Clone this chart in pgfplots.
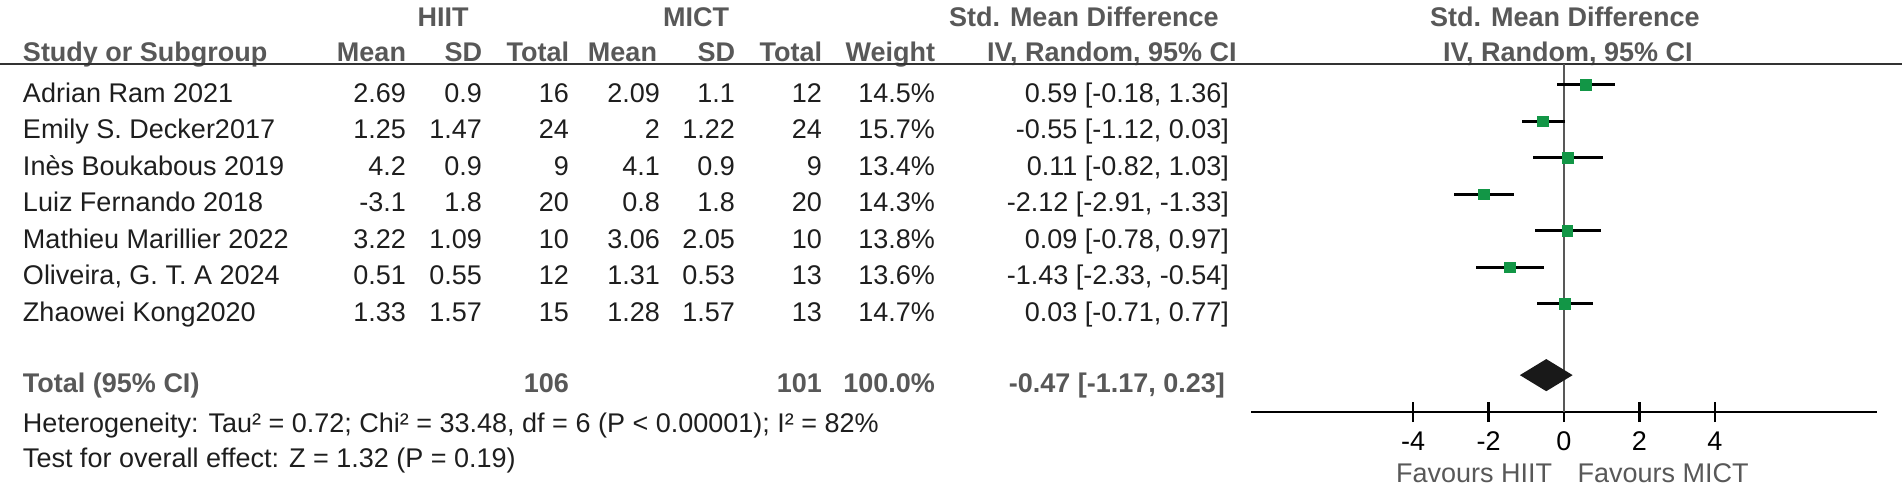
\documentclass[border=0pt]{standalone}
\usepackage{fontspec}
\setmainfont{Liberation Sans}
\usepackage{pgfplots}
\usepackage{pgfplotstable}
\pgfplotsset{compat=1.18}

\definecolor{hdr}{RGB}{88,88,88}
\definecolor{txt}{RGB}{30,30,30}
\definecolor{sq}{RGB}{18,150,70}

% study, SMD and 95% CI (row = position from top)
\pgfplotstableread{
row smd lo hi
1  0.59 -0.18  1.36
2 -0.55 -1.12  0.03
3  0.11 -0.82  1.03
4 -2.12 -2.91 -1.33
5  0.09 -0.78  0.97
6 -1.43 -2.33 -0.54
7  0.03 -0.71  0.77
}\studies

\begin{document}
\begin{tikzpicture}[font=\fontsize{8.1}{9.7}\selectfont]
\begin{scope}[x=0.3pt, y=-0.3pt,
  every node/.style={inner sep=0pt, outer sep=0pt, text=txt}]
\useasboundingbox (0,0) rectangle (1904,483);

% header
\begin{scope}[every node/.append style={text=hdr, font=\fontsize{8.1}{9.7}\selectfont\bfseries}]
  \node[anchor=base] at (443,26) {HIIT};
  \node[anchor=base] at (696,26) {MICT};
  \node[anchor=base west] at (949,26) {Std. Mean Difference};
  \node[anchor=base west] at (1430,26) {Std. Mean Difference};
  \node[anchor=base west] at (23,61) {Study or Subgroup};
  \node[anchor=base east] at (406,61) {Mean};
  \node[anchor=base east] at (482,61) {SD};
  \node[anchor=base east] at (569,61) {Total};
  \node[anchor=base east] at (657,61) {Mean};
  \node[anchor=base east] at (735,61) {SD};
  \node[anchor=base east] at (822,61) {Total};
  \node[anchor=base east] at (935,61) {Weight};
  \node[anchor=base west] at (987,61) {IV, Random, 95\% CI};
  \node[anchor=base west] at (1443,61) {IV, Random, 95\% CI};
  % total row
  \node[anchor=base west] at (23,392) {Total (95\% CI)};
  \node[anchor=base east] at (569,392) {106};
  \node[anchor=base east] at (822,392) {101};
  \node[anchor=base east] at (935,392) {100.0\%};
  \node[anchor=base east] at (1225,392) {-0.47 [-1.17, 0.23]};
\end{scope}
\draw[line width=0.6pt, black!80] (0,64) -- (1902,64);

% study rows
\foreach \y/\name/\ma/\sa/\na/\mb/\sb/\nb/\w/\ci in {
  102/Adrian Ram 2021/2.69/0.9/16/2.09/1.1/12/14.5/{0.59 [-0.18, 1.36]},
  138.5/Emily S. Decker2017/1.25/1.47/24/2/1.22/24/15.7/{-0.55 [-1.12, 0.03]},
  175/Inès Boukabous 2019/4.2/0.9/9/4.1/0.9/9/13.4/{0.11 [-0.82, 1.03]},
  211.5/Luiz Fernando 2018/-3.1/1.8/20/0.8/1.8/20/14.3/{-2.12 [-2.91, -1.33]},
  248/Mathieu Marillier 2022/3.22/1.09/10/3.06/2.05/10/13.8/{0.09 [-0.78, 0.97]},
  284.5/{Oliveira, G. T. A 2024}/0.51/0.55/12/1.31/0.53/13/13.6/{-1.43 [-2.33, -0.54]},
  321/Zhaowei Kong2020/1.33/1.57/15/1.28/1.57/13/14.7/{0.03 [-0.71, 0.77]}}{
  \node[anchor=base west] at (23,\y) {\name};
  \node[anchor=base east] at (406,\y) {\ma};
  \node[anchor=base east] at (482,\y) {\sa};
  \node[anchor=base east] at (569,\y) {\na};
  \node[anchor=base east] at (660,\y) {\mb};
  \node[anchor=base east] at (735,\y) {\sb};
  \node[anchor=base east] at (822,\y) {\nb};
  \node[anchor=base east] at (935,\y) {\w\%};
  \node[anchor=base east] at (1229,\y) {\ci};
}

\node[anchor=base west] at (23,432) {Heterogeneity: Tau² = 0.72; Chi² = 33.48, df = 6 (P < 0.00001); I² = 82\%};
\node[anchor=base west] at (23,467) {Test for overall effect: Z = 1.32 (P = 0.19)};
\node[anchor=base, text=hdr] at (1474,482) {Favours HIIT};
\node[anchor=base, text=hdr] at (1663,482) {Favours MICT};
\end{scope}

\begin{axis}[
  at={(375.3pt,-123.6pt)}, anchor=south west,
  scale only axis, width=187.8pt, height=104.4pt,
  xmin=-8.3, xmax=8.3, ymin=-9.96, ymax=-0.425,
  axis x line=bottom, axis y line=none,
  x axis line style={-, line width=0.8pt, black},
  xtick={-4,-2,0,2,4}, xticklabels={-4,-2,0,2,4},
  tick align=center, major tick length=6pt,
  every tick/.style={black, line width=0.8pt},
  xticklabel style={anchor=north, inner sep=0pt, yshift=-2.7pt, text=black,
    font=\fontsize{8.1}{9.7}\selectfont},
  clip=false,
]
  % line of no effect
  \addplot[line width=0.6pt, color=hdr] coordinates {(0,-0.425) (0,-9.96)};
  % confidence intervals
  \addplot[draw=none, mark=none,
    error bars/.cd, x dir=both, x explicit, error mark=none,
    error bar style={draw=black, solid, line width=0.9pt}]
    table[x=smd, y expr=-\thisrow{row},
      x error plus expr=\thisrow{hi}-\thisrow{smd},
      x error minus expr=\thisrow{smd}-\thisrow{lo}] {\studies};
  % point estimates
  \addplot[color=sq, only marks, mark=square*, mark size=1.6pt,
    mark options={draw=sq, fill=sq, line width=0pt}]
    table[x=smd, y expr=-\thisrow{row}] {\studies};
  % pooled estimate
  \addplot[draw=none, fill=black!90] coordinates
    {(-1.17,-8.95) (-0.47,-8.51) (0.23,-8.95) (-0.47,-9.39)} -- cycle;
\end{axis}
\end{tikzpicture}
\end{document}
